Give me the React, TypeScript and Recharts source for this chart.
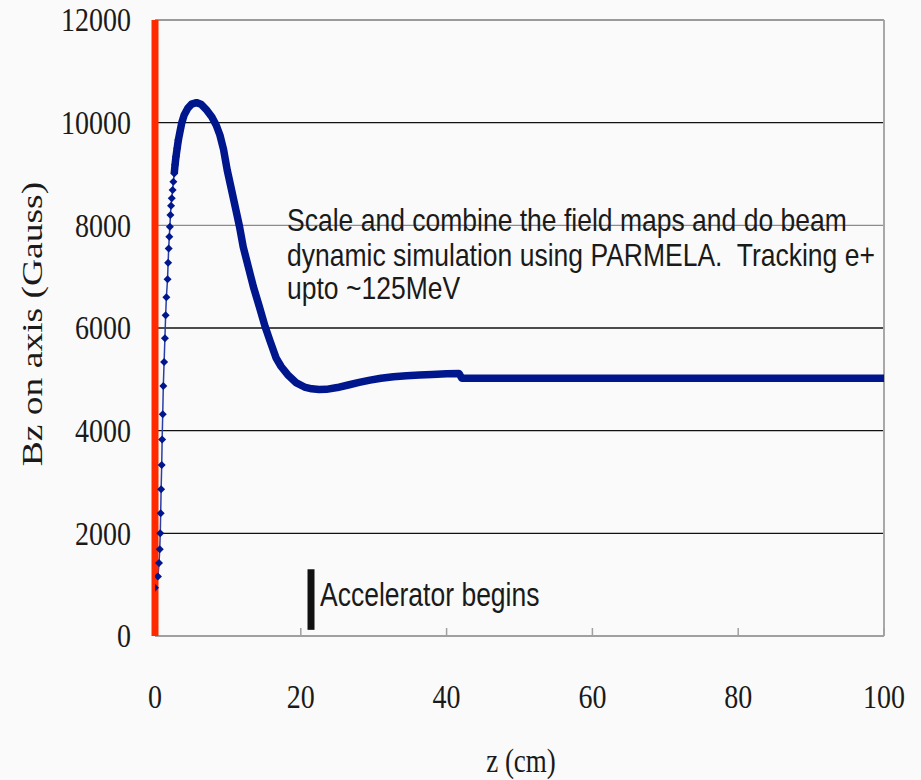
import { CartesianGrid, Line, LineChart, ReferenceLine, XAxis, YAxis } from "recharts";

// z (cm) and Bz (Gauss)
// steep rise near the origin, where single markers are visible
const riseZ = [0, 0.4, 0.55, 0.65, 0.72, 0.78, 0.84, 0.92, 0.98, 1.06, 1.14, 1.25, 1.36, 1.46, 1.56, 1.72, 1.8, 1.88, 1.96, 2.04, 2.12, 2.2, 2.3, 2.42, 2.52, 2.64, 2.75, 2.88, 3.04, 3.2];
const riseB = [940, 1160, 1420, 1690, 2000, 2390, 2860, 3330, 3830, 4320, 4870, 5340, 5800, 6250, 6600, 6950, 7270, 7550, 7780, 7970, 8200, 8380, 8530, 8690, 8850, 9010, 9180, 9340, 9500, 9660];

// dense part, where the markers merge into a thick band
const bandZ = [2.64, 2.75, 2.88, 3.04, 3.2, 3.42, 3.66, 4.0, 4.5, 5.0, 5.7, 6.3, 7.0, 7.8, 8.4, 8.9, 9.4, 9.9, 10.5, 11.1, 11.6, 12.1, 12.8, 13.5, 14.3, 15.1, 15.8, 16.6, 17.3, 18.2, 19.4, 20.5, 21.5, 22.5, 23.5, 25, 26.5, 28, 29.5, 31, 32.7, 34.5, 36.3, 38, 40, 41.7, 42.1, 50, 60, 70, 80, 90, 100];
const bandB = [9010, 9180, 9340, 9500, 9660, 9820, 9990, 10150, 10280, 10360, 10390, 10360, 10260, 10110, 9950, 9760, 9480, 9080, 8690, 8300, 7970, 7580, 7190, 6800, 6420, 6030, 5740, 5420, 5250, 5090, 4930, 4850, 4815, 4800, 4805, 4840, 4890, 4940, 4985, 5020, 5050, 5070, 5085, 5095, 5110, 5115, 5020, 5020, 5020, 5020, 5020, 5020, 5020];

const xTicks = [0, 20, 40, 60, 80, 100];
const yTicks = [0, 2000, 4000, 6000, 8000, 10000, 12000];

const noteLines = [
  "Scale and combine the field maps and do beam",
  "dynamic simulation using PARMELA.  Tracking e+",
  "upto ~125MeV",
];

const riseData = riseZ.map((z, i) => ({ z, b: riseB[i] }));
const bandData = bandZ.map((z, i) => ({ z, b: bandB[i] }));

const SERIF = '"Liberation Serif", "Times New Roman", serif';
const SANS = '"Liberation Sans", Arial, sans-serif';
const NAVY = "#00168c";

function YTick({ x, y, payload }: any) {
  return (
    <g transform={`translate(${x},${y})`}>
      <text x={0} y={0} dy="0.33em" transform="scale(1,1.22)" textAnchor="end" fontFamily={SERIF} fontSize={28} fill="#1a1a1a">
        {payload.value}
      </text>
    </g>
  );
}

function XTick({ x, y, payload }: any) {
  return (
    <g transform={`translate(${x},${y})`}>
      <text x={0} y={0} dy="0.33em" transform="scale(1,1.22)" textAnchor="middle" fontFamily={SERIF} fontSize={28} fill="#1a1a1a">
        {payload.value}
      </text>
    </g>
  );
}

function Diamond({ cx, cy }: any) {
  if (cx == null || cy == null) return null;
  const r = 4;
  return <polygon points={`${cx},${cy - r} ${cx + r},${cy} ${cx},${cy + r} ${cx - r},${cy}`} fill={NAVY} />;
}

function gridLine(p: any) {
  const stroke = p.index === 0 ? "none" : p.index === 4 ? "#8c8c8c" : p.index === 6 ? "#7a7a7a" : "#111";
  return <line key={p.key} x1={p.x1} x2={p.x2} y1={p.y1} y2={p.y2} stroke={stroke} strokeWidth={1.3} />;
}

export default function App() {
  return (
    <div style={{ position: "absolute", left: 0, top: 0, width: 921, height: 780, background: "#fafafa", overflow: "hidden" }}>
      <LineChart width={921} height={780} margin={{ top: 20, right: 37, bottom: 84, left: 55 }}>
        <CartesianGrid vertical={false} horizontal={gridLine} />
        <XAxis
          type="number"
          dataKey="z"
          domain={[0, 100]}
          ticks={xTicks}
          allowDataOverflow
          height={60}
          stroke="#a0a0a0"
          axisLine={{ stroke: "#a0a0a0", strokeWidth: 2 }}
          tickLine={{ stroke: "#a0a0a0", strokeWidth: 1.5 }}
          tickSize={-8}
          tickMargin={69}
          tick={<XTick />}
        />
        <YAxis
          type="number"
          domain={[0, 12000]}
          ticks={yTicks}
          width={100}
          axisLine={{ stroke: "#ff2a00", strokeWidth: 7 }}
          tickLine={false}
          tickSize={0}
          tickMargin={24}
          tick={<YTick />}
        />
        <ReferenceLine x={100} stroke="#a8a8a8" strokeWidth={2} />
        <ReferenceLine y={12000} stroke="#9a9a9a" strokeWidth={1.5} />
        <ReferenceLine
          segment={[
            { x: 21.4, y: 120 },
            { x: 21.4, y: 1300 },
          ]}
          stroke="#111"
          strokeWidth={7}
        />
        <Line
          data={riseData}
          dataKey="b"
          type="linear"
          stroke="#2a3ea8"
          strokeWidth={1.5}
          dot={<Diamond />}
          activeDot={false}
          isAnimationActive={false}
        />
        <Line
          data={bandData}
          dataKey="b"
          type="linear"
          stroke={NAVY}
          strokeWidth={7.5}
          strokeLinejoin="round"
          strokeLinecap="butt"
          dot={false}
          activeDot={false}
          isAnimationActive={false}
        />
      </LineChart>

      <div
        style={{
          position: "absolute",
          left: 32,
          top: 324,
          transform: "translate(-50%,-50%) rotate(-90deg) scale(1.25,1)",
          whiteSpace: "nowrap",
          fontFamily: SERIF,
          fontSize: 30,
          color: "#1a1a1a",
        }}
      >
        Bz on axis (Gauss)
      </div>

      <div
        style={{
          position: "absolute",
          left: 521,
          top: 762,
          transform: "translate(-50%,-50%) scale(1,1.22)",
          whiteSpace: "nowrap",
          fontFamily: SERIF,
          fontSize: 27,
          color: "#1a1a1a",
        }}
      >
        z (cm)
      </div>

      <div
        style={{
          position: "absolute",
          left: 287,
          top: 205,
          transformOrigin: "0 0",
          transform: "scale(1,1.15)",
          whiteSpace: "pre",
          fontFamily: SANS,
          fontSize: 26.5,
          lineHeight: "29.6px",
          color: "#1a1a1a",
        }}
      >
        {noteLines.join("\n")}
      </div>

      <div
        style={{
          position: "absolute",
          left: 320,
          top: 576,
          transformOrigin: "0 0",
          transform: "scale(1,1.25)",
          whiteSpace: "nowrap",
          fontFamily: SANS,
          fontSize: 26.5,
          lineHeight: "30px",
          color: "#1a1a1a",
        }}
      >
        Accelerator begins
      </div>
    </div>
  );
}
